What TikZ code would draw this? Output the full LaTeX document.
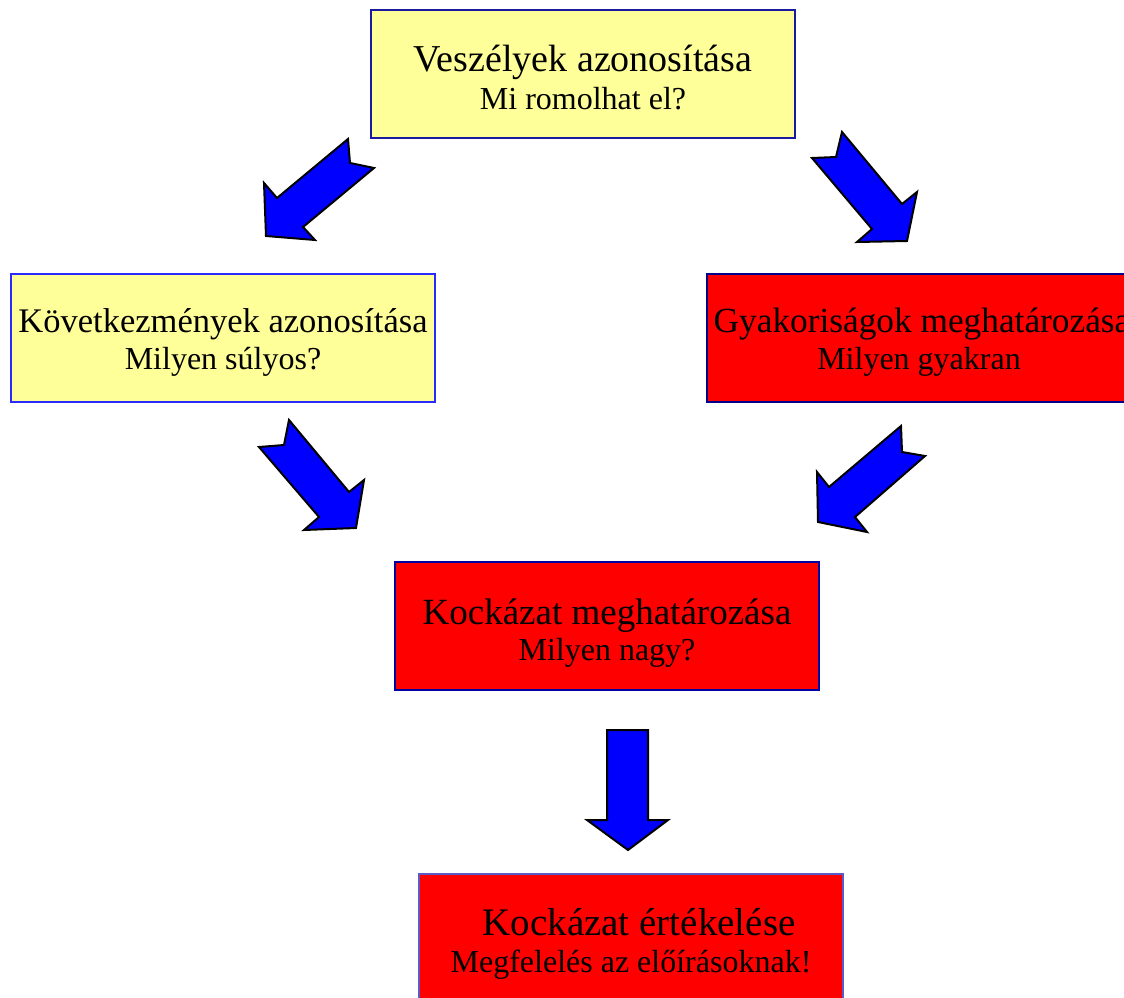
\documentclass[tikz,border=0pt]{standalone}
\usepackage{fontspec}
\setmainfont{Liberation Serif}
\definecolor{boxyellow}{HTML}{FFFF99}
\definecolor{boxred}{HTML}{FF0000}
\definecolor{lineA}{HTML}{1A1AA0}
\definecolor{lineB}{HTML}{2A2AFF}
\definecolor{lineC}{HTML}{00008B}
\definecolor{lineD}{HTML}{0000A0}
\definecolor{lineE}{HTML}{5A5AC8}
\definecolor{arrowblue}{HTML}{0000FF}
\begin{document}
\begin{tikzpicture}[x=1pt,y=-1pt,
  box/.style={line width=2pt,minimum width=424pt,minimum height=128pt,inner sep=0pt},
  yellowbox/.style={box,fill=boxyellow},
  redbox/.style={box,fill=boxred},
  title/.style={anchor=base,inner sep=0pt},
  sub/.style={anchor=base,inner sep=0pt,font=\fontsize{32}{36}\selectfont},
  blockarrow/.style={fill=arrowblue,draw=black,line width=2pt,line join=miter}]
\useasboundingbox (0,0) rectangle (1124,998);
\node[yellowbox,draw=lineA] (haz) at (583,74) {};
\node[yellowbox,draw=lineB] (kov) at (223,338) {};
\node[redbox,draw=lineC] (gyak) at (919,338) {};
\node[redbox,draw=lineD] (kock) at (607,626) {};
\node[redbox,draw=lineE] (ert) at (631,938) {};
\node[title,font=\fontsize{38}{40}\selectfont] (hazt) at (583,71) {Veszélyek azonosítása};
\node[sub] (hazs) at (583,109) {Mi romolhat el?};
\node[title,font=\fontsize{34.5}{40}\selectfont] (kovt) at (223,332) {Következmények azonosítása};
\node[sub] (kovs) at (223,369) {Milyen súlyos?};
\node[title,font=\fontsize{35.3}{40}\selectfont] (gyakt) at (922,332) {Gyakoriságok meghatározása};
\node[sub] (gyaks) at (919,369) {Milyen gyakran};
\node[title,font=\fontsize{37}{40}\selectfont] (kockt) at (607,624) {Kockázat meghatározása};
\node[sub] (kocks) at (607,660) {Milyen nagy?};
\node[title,font=\fontsize{39}{40}\selectfont] (ertt) at (639,935) {Kockázat értékelése};
\node[sub] (erts) at (631,972) {Megfelelés az előírásoknak!};
% block arrows
\draw[blockarrow] (348,139) -- (277,198) -- (264,183) -- (266,236) -- (315,240) -- (303,227) -- (374,168) -- (350,163) -- cycle;
\draw[blockarrow] (842,132) -- (902,204) -- (917,192) -- (907,241) -- (857,242) -- (872,229) -- (812,158) -- (836,157) -- cycle;
\draw[blockarrow] (289,420) -- (349,492) -- (364,480) -- (356,528) -- (304,530) -- (319,517) -- (259,447) -- (284,445) -- cycle;
\draw[blockarrow] (901,426) -- (829,487) -- (817,472) -- (818,522) -- (867,532) -- (855,517) -- (925,456) -- (902,452) -- cycle;
\draw[blockarrow] (607,730) -- (648,730) -- (648,820) -- (668,820) -- (628,850) -- (587,820) -- (607,820) -- cycle;
\end{tikzpicture}
\end{document}
